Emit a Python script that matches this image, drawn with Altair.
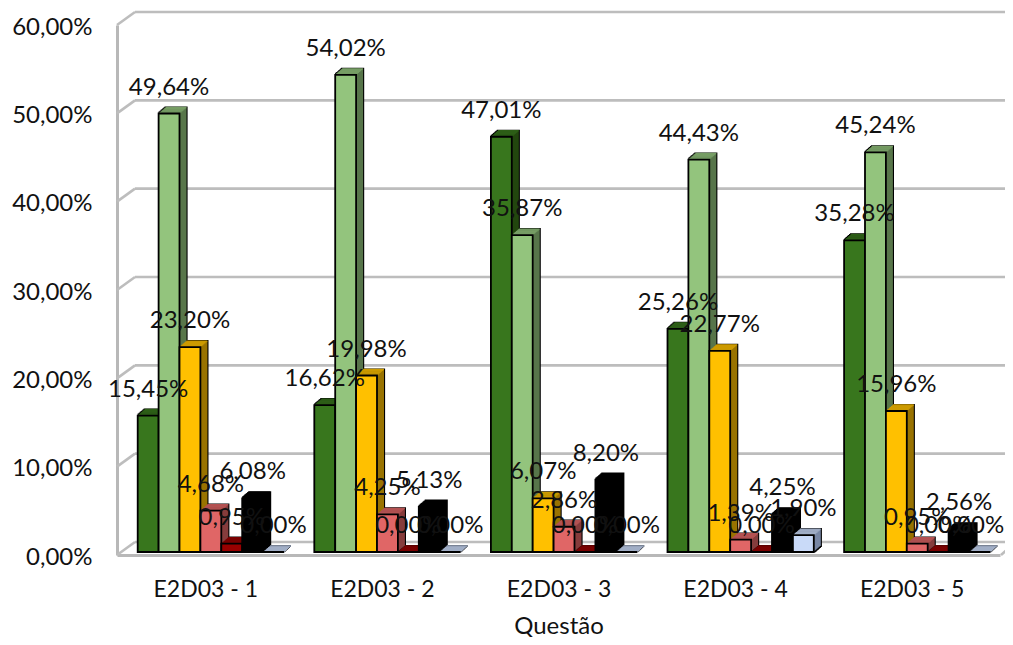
import altair as alt
import pandas as pd

categories = ["E2D03 - 1", "E2D03 - 2", "E2D03 - 3", "E2D03 - 4", "E2D03 - 5"]
series = ["A", "B", "C", "D", "E", "F", "G"]
values = {
    "A": [15.45, 16.62, 47.01, 25.26, 35.28],
    "B": [49.64, 54.02, 35.87, 44.43, 45.24],
    "C": [23.20, 19.98, 6.07, 22.77, 15.96],
    "D": [4.68, 4.25, 2.86, 1.39, 0.95],
    "E": [0.95, 0.00, 0.00, 0.00, 0.00],
    "F": [6.08, 5.13, 8.20, 4.25, 2.56],
    "G": [0.00, 0.00, 0.00, 1.90, 0.00],
}
front_colors = ["#38761D", "#93C47D", "#FFC000", "#E06666", "#990000", "#000000", "#C9DAF8"]
top_colors = ["#2D5E17", "#769D64", "#CC9A00", "#B35252", "#7A0000", "#000000", "#A1AEC6"]
side_colors = ["#22470F", "#58764B", "#997300", "#863D3D", "#5C0000", "#000000", "#7988A5"]
y_ticks = [0, 10, 20, 30, 40, 50, 60]

FONT = "Lato"
W, H = 883, 530
DEPTH = [7, 6, 5, 4, 3, 2, 1]
BASE_Y = -3
STEP_Y = 0.86
BAR = 20.9 / 176.6          # bar width, in category units
LEAD = 20.7 / 176.6         # gap before the first bar of a group
LAST_LABEL_NUDGE = 9 / 176.6  # keeps the last label inside the page

rows = []
for cat_i, cat in enumerate(categories):
    for s_i, s in enumerate(series):
        v = values[s][cat_i]
        x0 = cat_i + LEAD + s_i * BAR
        xm = x0 + BAR / 2
        if cat_i == len(categories) - 1 and s_i == len(series) - 1:
            xm -= LAST_LABEL_NUDGE
        rows.append({"cat": cat, "series": s, "value": v, "x0": x0, "x1": x0 + BAR,
                     "xm": xm,
                     "label": f"{v:.2f}".replace(".", ",") + "%"})
df = pd.DataFrame(rows)

x_scale = alt.Scale(domain=[0, 5], nice=False, zero=False)
y_scale = alt.Scale(domain=[0, 60], nice=False)
cat_expr = "{0.5:'E2D03 - 1',1.5:'E2D03 - 2',2.5:'E2D03 - 3',3.5:'E2D03 - 4',4.5:'E2D03 - 5'}[datum.value]"
x_axis = alt.Axis(values=[0.5, 1.5, 2.5, 3.5, 4.5], labelExpr=cat_expr, labelAngle=0,
                  labelPadding=23, ticks=False, domainColor="#B8B8B8", domainWidth=3, labelFont=FONT,
                  labelFontSize=23, labelColor="#111111", titleFont=FONT, titleFontSize=24,
                  titleFontWeight="normal", titleColor="#111111", titlePadding=13, grid=False)
y_axis = alt.Axis(values=y_ticks, ticks=False, grid=False, domainColor="#B8B8B8", domainWidth=3,
                  labelExpr="replace(format(datum.value,'.2f'),'.',',')+'%'", labelPadding=25,
                  labelFont=FONT, labelFontSize=24, labelColor="#111111", labelOffset=2, title=None)


def X(field):
    return alt.X(field, title="Questão", scale=x_scale, axis=x_axis)


def Y(field):
    return alt.Y(field, title=None, scale=y_scale, axis=y_axis)


def col(rng):
    return alt.Scale(domain=series, range=rng)


grid_df = pd.DataFrame({"tick": y_ticks, "back": [t + 13 * 60 / H for t in y_ticks]})
right_df = pd.DataFrame({"tick": [0], "back": [12 * 60 / H]})

back_lines = alt.Chart(grid_df).mark_rule(color="#BDBDBD", strokeWidth=2.6, yOffset=-13, y2Offset=-13).encode(
    x=alt.value(18), x2=alt.value(900), y=Y("tick:Q"))
left_diag = alt.Chart(grid_df).mark_rule(color="#BDBDBD", strokeWidth=2.6).encode(
    x=alt.value(0), x2=alt.value(18), y=Y("tick:Q"), y2="back:Q")
right_diag = alt.Chart(right_df).mark_rule(color="#BDBDBD", strokeWidth=2.6).encode(
    x=alt.value(884), x2=alt.value(898), y=Y("tick:Q"), y2="back:Q")

base = alt.Chart(df)
layers = [back_lines, left_diag, right_diag]


def shift(k):
    return dict(xOffset=k, x2Offset=k, yOffset=BASE_Y - k * STEP_Y, y2Offset=BASE_Y - k * STEP_Y)


for k in DEPTH:
    layers.append(base.mark_rect(stroke="#000000", strokeWidth=2.2, fill="#000000", **shift(k)).encode(
        x=X("x0:Q"), x2="x1:Q", y=Y("value:Q"), y2=alt.Y2(datum=0)))
for k in DEPTH:
    layers.append(base.mark_rect(**shift(k)).encode(
        x=X("x0:Q"), x2="x1:Q", y=Y("value:Q"), y2=alt.Y2(datum=0),
        fill=alt.Fill("series:N", scale=col(side_colors), legend=None)))
    layers.append(base.mark_rect(strokeWidth=1.3, **shift(k)).encode(
        x=X("x0:Q"), x2="x1:Q", y=Y("value:Q"), y2="value:Q",
        stroke=alt.Stroke("series:N", scale=col(top_colors), legend=None)))

layers.append(base.mark_rect(stroke="#000000", strokeWidth=1.8, **shift(0)).encode(
    x=X("x0:Q"), x2="x1:Q", y=Y("value:Q"), y2=alt.Y2(datum=0),
    fill=alt.Fill("series:N", scale=col(front_colors), legend=None)))

layers.append(base.mark_text(font=FONT, fontSize=24, color="#111111", baseline="middle",
                             dx=0, dy=-29).encode(
    x=X("xm:Q"), y=Y("value:Q"), text="label:N"))

chart = alt.layer(*layers).resolve_scale(fill="independent", stroke="independent").properties(
    width=W, height=H,
    autosize=alt.AutoSizeParams(type="none"),
    padding={"left": 109, "top": 17, "right": 5, "bottom": 82},
    background="white",
).configure_view(stroke=None)

chart.save("out.html", embed_options={"renderer": "svg", "actions": False})
